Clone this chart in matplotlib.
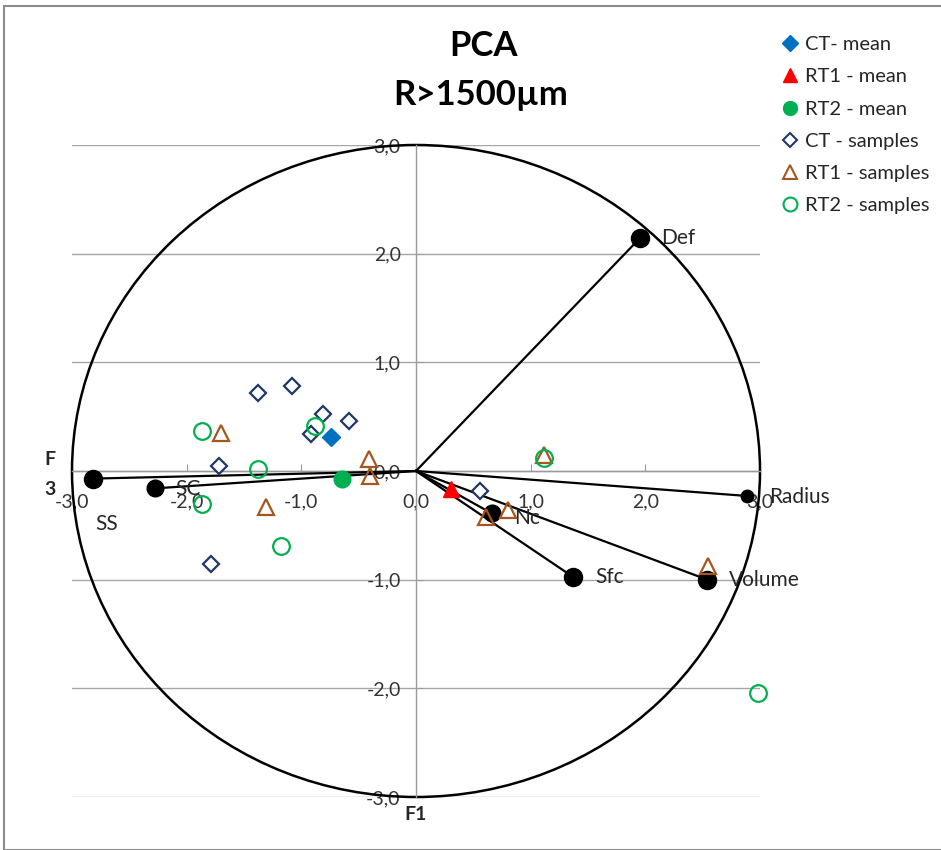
import matplotlib
matplotlib.use("Agg")
import matplotlib.pyplot as plt
from matplotlib.patches import Circle, Rectangle
from matplotlib.lines import Line2D
import numpy as np

plt.rcParams['font.family'] = ['Lato', 'DejaVu Sans']

# ---- data ----
var_names = ["SS", "SC", "Def", "Radius", "Volume", "Sfc", "Nc"]
var_x = [-2.82, -2.28, 1.95, 2.89, 2.54, 1.37, 0.66]
var_y = [-0.07, -0.16, 2.14, -0.23, -1.00, -0.975, -0.39]

ct_mean = (-0.74, 0.31)
rt1_mean = (0.305, -0.165)
rt2_mean = (-0.645, -0.07)

ct_x = [-1.38, -1.08, -0.81, -0.58, -0.92, -1.72, -1.79, 0.56]
ct_y = [0.72, 0.78, 0.52, 0.46, 0.34, 0.05, -0.86, -0.18]

rt1_x = [-1.70, -0.41, -0.40, -1.31, 0.61, 0.80, 1.12, 2.55]
rt1_y = [0.35, 0.11, -0.05, -0.33, -0.42, -0.36, 0.15, -0.87]

rt2_x = [-1.87, -0.88, -1.38, -1.87, -1.18, 1.12, 2.98]
rt2_y = [0.37, 0.41, 0.02, -0.30, -0.69, 0.12, -2.04]

ticks = [-3, -2, -1, 0, 1, 2, 3]

W, H = 941, 850
fig = plt.figure(figsize=(W / 100, H / 100), dpi=100)

# outer border
fig.patches.append(Rectangle((4 / W, 0), 1.2, 1 - 6 / H, transform=fig.transFigure,
                             fill=False, edgecolor='#8c8c8c', linewidth=1.5))

ax = fig.add_axes([72 / W, 53 / H, 688 / W, 652 / H])
ax.set_xlim(-3, 3)
ax.set_ylim(-3, 3)
ax.set_facecolor('none')

for s in ['top', 'right']:
    ax.spines[s].set_visible(False)
ax.spines['left'].set_position('zero')
ax.spines['bottom'].set_position('zero')
for s in ['left', 'bottom']:
    ax.spines[s].set_color('#9a9a9a')
    ax.spines[s].set_linewidth(1.0)

ax.set_xticks(ticks)
ax.set_yticks(ticks)
fmt = lambda v: f"{v:.1f}".replace('.', ',')
ax.set_xticklabels([fmt(t) for t in ticks])
ax.set_yticklabels([fmt(t) for t in ticks])
ax.tick_params(axis='x', direction='in', length=5, color='#9a9a9a', pad=16,
               labelsize=14, labelcolor='#333333')
ax.tick_params(axis='y', direction='in', length=5, color='#9a9a9a', pad=11,
               labelsize=14, labelcolor='#333333')
ax.yaxis.grid(True, color='#a6a6a6', linewidth=1.0)
ax.xaxis.grid(False)
ax.set_axisbelow(True)

# correlation circle
ax.add_patch(Circle((0, 0), 3.0, fill=False, edgecolor='black', linewidth=1.8,
                    clip_on=False, zorder=2))

# variable vectors
for x, y in zip(var_x, var_y):
    ax.plot([0, x], [0, y], color='black', linewidth=1.6, zorder=3, clip_on=False)
sizes = [13, 12, 13, 9, 13, 13, 12]
for x, y, s in zip(var_x, var_y, sizes):
    ax.plot(x, y, 'o', color='black', markersize=s, zorder=4, clip_on=False)

label_offsets = {"SS": (0.02, -0.42, 'left'), "SC": (0.18, -0.01, 'left'),
                 "Def": (0.19, 0.0, 'left'), "Radius": (0.19, -0.01, 'left'),
                 "Volume": (0.19, 0.0, 'left'), "Sfc": (0.19, 0.0, 'left'),
                 "Nc": (0.2, -0.04, 'left')}
for n, x, y in zip(var_names, var_x, var_y):
    dx, dy, ha = label_offsets[n]
    ax.text(x + dx, y + dy, n, fontsize=15, color='#262626', ha=ha, va='center',
            zorder=5, clip_on=False)

# samples
ax.plot(ct_x, ct_y, 'D', markerfacecolor='white', markeredgecolor='#1F3864',
        markeredgewidth=1.6, markersize=8.5, linestyle='none', zorder=5, clip_on=False)
ax.plot(rt1_x, rt1_y, '^', markerfacecolor='none', markeredgecolor='#A5561E',
        markeredgewidth=1.6, markersize=12, linestyle='none', zorder=5, clip_on=False)
ax.plot(rt2_x, rt2_y, 'o', markerfacecolor='none', markeredgecolor='#00B050',
        markeredgewidth=1.6, markersize=12, linestyle='none', zorder=5, clip_on=False)

# means
ax.plot(*ct_mean, 'D', color='#0070C0', markersize=9, zorder=6)
ax.plot(*rt1_mean, '^', color='#FF0000', markersize=12, zorder=6)
ax.plot(*rt2_mean, 'o', color='#00B050', markersize=12, zorder=6)

# axis titles
fig.text(416 / W, 1 - 815 / H, "F1", fontsize=14, fontweight='bold', ha='center',
         va='center', color='#262626')
fig.text(50 / W, 1 - 459 / H, "F", fontsize=14, fontweight='bold', ha='center',
         va='center', color='#262626')
fig.text(50 / W, 1 - 490 / H, "3", fontsize=14, fontweight='bold', ha='center',
         va='center', color='#262626')

# title
fig.text(483 / W, 1 - 46 / H, "PCA", fontsize=25, fontweight='bold', ha='center', va='center')
fig.text(481 / W, 1 - 95 / H, "R>1500µm", fontsize=25, fontweight='bold', ha='center', va='center')

# legend
handles = [
    Line2D([], [], marker='D', color='#0070C0', linestyle='none', markersize=8),
    Line2D([], [], marker='^', color='#FF0000', linestyle='none', markersize=10),
    Line2D([], [], marker='o', color='#00B050', linestyle='none', markersize=10),
    Line2D([], [], marker='D', markerfacecolor='white', markeredgecolor='#1F3864',
           markeredgewidth=1.5, linestyle='none', markersize=7.5),
    Line2D([], [], marker='^', markerfacecolor='white', markeredgecolor='#A5561E',
           markeredgewidth=1.5, linestyle='none', markersize=10),
    Line2D([], [], marker='o', markerfacecolor='white', markeredgecolor='#00B050',
           markeredgewidth=1.5, linestyle='none', markersize=10),
]
labels = ["CT- mean", "RT1 - mean", "RT2 - mean", "CT - samples", "RT1 - samples",
          "RT2 - samples"]
fig.legend(handles, labels, loc='upper left', bbox_to_anchor=(772 / W, 1 - 26 / H),
           frameon=False, fontsize=14.5, handlelength=0.8, handletextpad=0.35,
           labelspacing=0.75, borderpad=0, labelcolor='#262626')

fig.savefig("out.png", dpi=100)
